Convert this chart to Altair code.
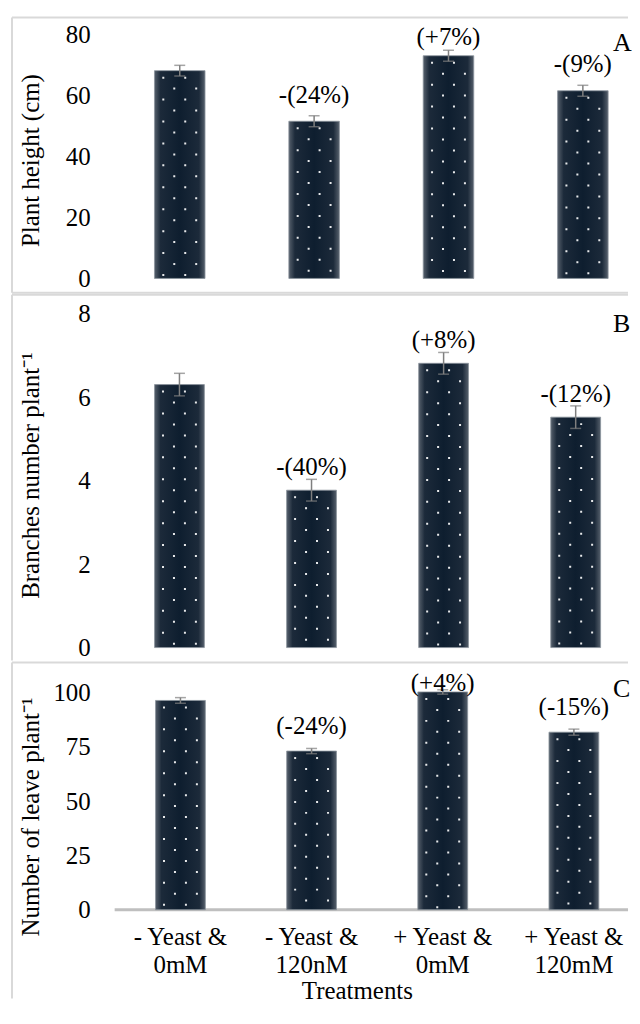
import altair as alt
import pandas as pd

# ---------------- data ----------------
cats = ["- Yeast &|0mM", "- Yeast &|120nM", "+ Yeast &|0mM", "+ Yeast &|120mM"]

height_vals = [68.2, 51.6, 73.1, 61.6]
height_err = [1.75, 1.8, 1.8, 1.8]
height_pct = ["", "-(24%)", "(+7%)", "-(9%)"]

branch_vals = [6.30, 3.77, 6.81, 5.52]
branch_err = [0.27, 0.26, 0.26, 0.27]
branch_pct = ["", "-(40%)", "(+8%)", "-(12%)"]

leaf_vals = [96.3, 73.0, 100.2, 81.7]
leaf_err = [1.3, 1.2, 1.0, 1.4]
leaf_pct = ["", "(-24%)", "(+4%)", "(-15%)"]

FONT = "Liberation Serif"
W = 618
FS = 25
BORDER = "#d9d9d9"

grad = alt.Gradient(
    gradient="linear",
    stops=[
        alt.GradientStop(color="#56606c", offset=0),
        alt.GradientStop(color="#1c2a3a", offset=0.12),
        alt.GradientStop(color="#0e1e2f", offset=0.5),
        alt.GradientStop(color="#1c2a3a", offset=0.88),
        alt.GradientStop(color="#56606c", offset=1),
    ],
    x1=0, x2=1, y1=0, y2=0,
)


def panel(vals, errs, pcts, letter, ytitle, yvals, ydomain, height, xrange,
          pinner, title_y, label_off, label_cap, letter_y, show_x, bottom_border):
    df = pd.DataFrame({
        "cat": cats,
        "val": vals,
        "lo": [v - e for v, e in zip(vals, errs)],
        "hi": [v + e for v, e in zip(vals, errs)],
        "pct": pcts,
    })
    xscale = alt.Scale(range=xrange, paddingInner=pinner, paddingOuter=0)
    if show_x:
        xaxis = alt.Axis(
            orient="bottom", offset=-(height - 248), domain=False, ticks=False,
            tickSize=0, grid=False, labelPadding=15, labelFontSize=FS,
            labelLineHeight=28, labelExpr="split(datum.label, '|')", labelAngle=0,
            labelColor="black", labelFont=FONT, title="Treatments", titleFont=FONT,
            titleFontSize=FS, titleFontWeight="normal", titleColor="black",
            titleX=346, titleY=89, titleBaseline="alphabetic", titleAlign="center",
        )
    else:
        xaxis = None
    x = alt.X("cat:N", sort=cats, scale=xscale, axis=xaxis)
    yscale = alt.Scale(domain=ydomain, nice=False, zero=False)
    yaxis = alt.Axis(
        values=yvals, offset=-78.5, domain=False, ticks=False, tickSize=0,
        grid=False, labelPadding=0, labelFontSize=FS, labelFont=FONT,
        labelColor="black", labelFlush=False, labelOverlap=False,
        title=ytitle, titleFont=FONT, titleFontSize=FS, titleFontWeight="normal",
        titleColor="black", titleX=-60, titleY=title_y, titleBaseline="middle",
        titleAngle=270, titleAlign="center",
    )

    def ych(field):
        return alt.Y(field, scale=yscale, axis=yaxis)

    base = alt.Chart(df)
    one = alt.Chart(pd.DataFrame({"k": [0]}))
    layers = []
    # panel frame (top, left, optional bottom)
    layers.append(one.mark_rule(color=BORDER, strokeWidth=2).encode(
        x=alt.value(0), x2=alt.value(W), y=alt.value(0)))
    layers.append(one.mark_rule(color=BORDER, strokeWidth=2).encode(
        x=alt.value(0), y=alt.value(0), y2=alt.value(height)))
    if bottom_border:
        layers.append(one.mark_rule(color=BORDER, strokeWidth=2).encode(
            x=alt.value(0), x2=alt.value(W), y=alt.value(height)))
    if show_x:
        zero = alt.Chart(pd.DataFrame({"z": [0]})).mark_rule(
            color="#bfbfbf", strokeWidth=3
        ).encode(y=ych("z:Q"), x=alt.value(103), x2=alt.value(W))
        layers.append(zero)
    bars = base.mark_bar(color=grad, stroke="#8a939c", strokeWidth=0.8).encode(
        x=x, y=ych("val:Q"), y2=alt.datum(0)
    )
    layers.append(bars)
    for xo, off in [(-16.5, 16), (-5.5, 5), (5.5, 16), (16.5, 5)]:
        layers.append(
            base.mark_rule(
                color="white", strokeWidth=2, strokeDash=[2, 20],
                strokeDashOffset=off, xOffset=xo, opacity=0.9,
            ).encode(x=x, y=ych("val:Q"), y2=alt.datum(0))
        )
    layers.append(
        base.mark_rule(color="#7f7f7f", strokeWidth=1.5).encode(
            x=x, y=ych("lo:Q"), y2="hi:Q"
        )
    )
    for f in ["lo:Q", "hi:Q"]:
        layers.append(
            base.mark_tick(color="#7f7f7f", thickness=1.5, size=11).encode(
                x=x, y=ych(f)
            )
        )
    layers.append(
        base.transform_calculate(
            ly=f"min(datum.val + {label_off}, {label_cap})"
        ).mark_text(
            baseline="alphabetic", fontSize=FS, font=FONT, color="black"
        ).encode(x=x, y=ych("ly:Q"), text="pct:N")
    )
    layers.append(
        alt.Chart(pd.DataFrame({"t": [letter]})).mark_text(
            align="left", baseline="alphabetic", fontSize=26, font=FONT, color="black"
        ).encode(text="t:N", x=alt.value(603), y=alt.value(letter_y))
    )
    return alt.layer(*layers).properties(width=W, height=height)


A = panel(height_vals, height_err, height_pct, "A", "Plant height (cm)",
          [0, 20, 40, 60, 80], [-4.68, 85.63], 276, [142.95, 598.05], 0.6239,
          143, 6.05, 76.7, 34, False, True)
B = panel(branch_vals, branch_err, branch_pct, "B", "Branches number plant\u207b\u00b9",
          [0, 2, 4, 6, 8], [-0.31, 8.454], 367, [143.0, 590.5], 0.6226,
          181, 0.358, 99, 37.7, False, False)
C = panel(leaf_vals, leaf_err, leaf_pct, "C", "Number of leave plant\u207b\u00b9",
          [0, 25, 50, 75, 100], [-40.83, 113.76], 337, [144.0, 588.7], 0.62,
          154.5, 7.8, 100.5, 35, True, False)

chart = alt.vconcat(A, B, C, spacing=0).properties(
    padding={"left": 3, "top": 7, "right": 0, "bottom": 0}
).configure(font=FONT).configure_view(strokeOpacity=0, strokeWidth=0)

chart.save("out.html", embed_options={"renderer": "svg", "actions": False})
